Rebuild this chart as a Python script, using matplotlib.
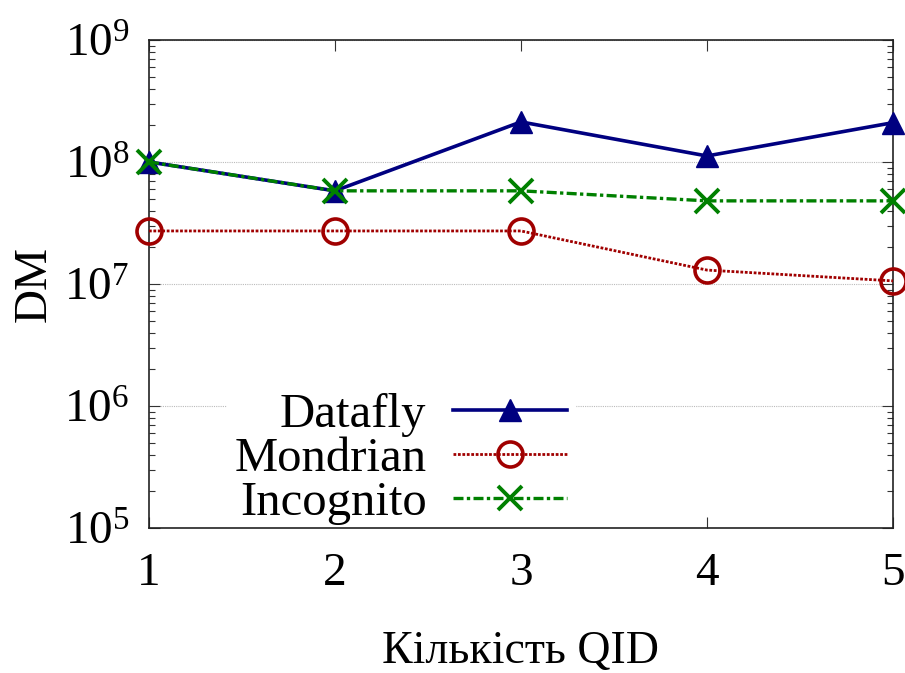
import matplotlib
matplotlib.use('Agg')
import matplotlib.pyplot as plt
from matplotlib.ticker import LogLocator, LogFormatterMathtext, NullFormatter

plt.rcParams['font.family'] = ['Liberation Serif', 'DejaVu Serif']
plt.rcParams['mathtext.fontset'] = 'custom'
plt.rcParams['mathtext.rm'] = 'Liberation Serif'
plt.rcParams['mathtext.it'] = 'Liberation Serif:italic'

# number of QIDs vs DM metric
qid = [1, 2, 3, 4, 5]
datafly = [1.0e8, 5.8e7, 2.13e8, 1.12e8, 2.1e8]
mondrian = [2.72e7, 2.72e7, 2.72e7, 1.3e7, 1.06e7]
incognito = [1.0e8, 5.8e7, 5.8e7, 4.8e7, 4.8e7]

fig = plt.figure(figsize=(9.05, 6.73), dpi=100)
ax = fig.add_axes([0.1646, 0.2155, 0.8221, 0.7251])

ax.plot(qid, datafly, color='#000080', lw=2.6, ls='-', marker='^',
        ms=16, mfc='#000080', mec='#000080', label='Datafly', zorder=4, clip_on=False)
ax.plot(qid, mondrian, color='#a00000', lw=2.0, ls=(0, (1, 0.6)), marker='o',
        ms=18, mfc='none', mec='#a00000', mew=2.6, label='Mondrian', zorder=3, clip_on=False)
ax.plot(qid, incognito, color='#008000', lw=2.4, ls=(0, (3, 1, 1, 1)), marker='x',
        ms=17, mec='#008000', mew=2.8, label='Incognito', zorder=5, clip_on=False)

ax.set_yscale('log')
ax.set_ylim(1e5, 1e9)
ax.set_xlim(1, 5)
ax.set_xticks(qid)
ax.yaxis.set_major_locator(LogLocator(base=10, numticks=10))
ax.yaxis.set_major_formatter(LogFormatterMathtext())
ax.yaxis.set_minor_locator(LogLocator(base=10, subs=range(2, 10), numticks=20))
ax.yaxis.set_minor_formatter(NullFormatter())

ax.tick_params(axis='both', which='both', direction='in', top=True, right=True,
               labelsize=34, width=0.8, color='#333333')
ax.tick_params(axis='y', which='major', length=8, pad=14)
ax.tick_params(axis='y', which='minor', length=4)
ax.tick_params(axis='x', which='major', length=8, pad=18)
ax.tick_params(axis='x', which='minor', top=False, bottom=False)

for spine in ax.spines.values():
    spine.set_linewidth(1.2)
    spine.set_color('#222222')

ax.grid(True, which='major', axis='y', color='#bbbbbb', ls=(0, (1, 1)), lw=0.8)
ax.set_axisbelow(True)

ax.set_xlabel('Кількість QID', fontsize=33, labelpad=25)
ax.set_ylabel('DM', fontsize=34, labelpad=6)

# key sits low in the plot; keep it under the spines so the frame stays visible
leg = ax.legend(loc='lower right', bbox_to_anchor=(0.605, -0.058), markerfirst=False,
                fontsize=35, frameon=True, framealpha=1.0, edgecolor='white',
                facecolor='white', fancybox=False, handlelength=2.35, handletextpad=0.55,
                labelspacing=0.0, borderpad=0.15)
for t in leg.get_texts():
    t.set_ha('right')
leg._legend_box.align = 'right'
leg.set_zorder(2)

fig.savefig('out.png', dpi=100)
